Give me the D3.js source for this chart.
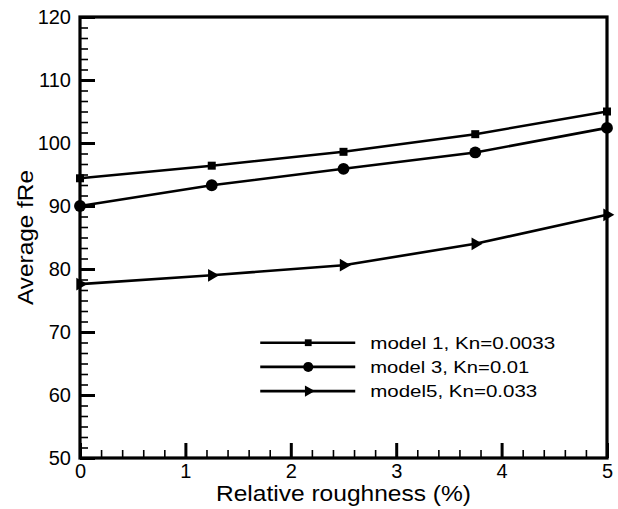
<!DOCTYPE html>
<html>
<head>
<meta charset="utf-8">
<script src="https://cdn.jsdelivr.net/npm/d3@7"></script>
<style>
  html, body { margin: 0; padding: 0; background: #fff; }
  svg { display: block; font-family: Arial, "Liberation Sans", sans-serif; }
</style>
</head>
<body>
<svg id="chart" width="618" height="509"></svg>
<script>
// Relative roughness (%) sampled at five positions
const roughness = [0, 1.25, 2.5, 3.75, 5];

// Average fRe for each model
const model1 = [94.4, 96.4, 98.6, 101.4, 105.0];
const model3 = [90.0, 93.3, 95.9, 98.5, 102.4];
const model5 = [77.6, 79.0, 80.6, 84.0, 88.6];

const seriesNames = ["model 1, Kn=0.0033", "model 3, Kn=0.01", "model5, Kn=0.033"];
const seriesMarkers = ["square", "circle", "triangle"];

const xTicks = [0, 1, 2, 3, 4, 5];
const yTicks = [50, 60, 70, 80, 90, 100, 110, 120];

const xTitle = "Relative roughness (%)";
const yTitle = "Average fRe";

const W = 618, H = 509;
const margin = { left: 80, right: 11, top: 17, bottom: 51 };
const plotW = W - margin.left - margin.right;
const plotH = H - margin.top - margin.bottom;

const svg = d3.select("#chart");
const g = svg.append("g").attr("transform", `translate(${margin.left},${margin.top})`);

const x = d3.scaleLinear().domain([0, 5]).range([0, plotW]);
const y = d3.scaleLinear().domain([50, 120]).range([plotH, 0]);

// minor ticks: x every 0.2, y every 10/6
const xMinor = d3.range(0, 26).map(i => i * 0.2).filter(v => Math.abs(v - Math.round(v)) > 1e-6);
const yMinor = d3.range(0, 43).map(i => 50 + i * 10 / 6).filter(v => Math.abs((v - 50) / 10 - Math.round((v - 50) / 10)) > 1e-6);

// Bottom axis (ticks pointing into the plot)
const xAxis = g.append("g").attr("transform", `translate(0,${plotH})`)
  .call(d3.axisBottom(x).tickValues(xTicks).tickSize(-15).tickPadding(6).tickFormat(d3.format("d")));
xAxis.select(".domain").remove();
xAxis.selectAll(".tick line").attr("stroke", "#000").attr("stroke-width", 3);
xAxis.selectAll(".tick text").attr("font-size", 20).attr("fill", "#000").attr("dy", "0.71em");

const xMinorAxis = g.append("g").attr("transform", `translate(0,${plotH})`)
  .call(d3.axisBottom(x).tickValues(xMinor).tickSize(-8).tickFormat(""));
xMinorAxis.select(".domain").remove();
xMinorAxis.selectAll(".tick line").attr("stroke", "#000").attr("stroke-width", 1.6);

// Left axis
const yAxis = g.append("g")
  .call(d3.axisLeft(y).tickValues(yTicks).tickSize(-15).tickPadding(9).tickFormat(d3.format("d")));
yAxis.select(".domain").remove();
yAxis.selectAll(".tick line").attr("stroke", "#000").attr("stroke-width", 3);
yAxis.selectAll(".tick text").attr("font-size", 20).attr("fill", "#000");

const yMinorAxis = g.append("g")
  .call(d3.axisLeft(y).tickValues(yMinor).tickSize(-8).tickFormat(""));
yMinorAxis.select(".domain").remove();
yMinorAxis.selectAll(".tick line").attr("stroke", "#000").attr("stroke-width", 1.6);

// Frame
g.append("rect").attr("x", 0).attr("y", 0).attr("width", plotW).attr("height", plotH)
  .attr("fill", "none").attr("stroke", "#000").attr("stroke-width", 3.2);

// Marker shapes
const symbolFor = {
  square: d3.symbol().type(d3.symbolSquare).size(64),
  circle: d3.symbol().type(d3.symbolCircle).size(110),
  triangle: d3.symbol().type(d3.symbolTriangle).size(70)
};

const allSeries = [model1, model3, model5];
const line = d3.line().x((d, i) => x(roughness[i])).y(d => y(d));

allSeries.forEach((vals, s) => {
  g.append("path").datum(vals).attr("d", line)
    .attr("fill", "none").attr("stroke", "#000").attr("stroke-width", 2.6);
  vals.forEach((v, i) => {
    const m = g.append("g").attr("transform", `translate(${x(roughness[i])},${y(v)})`);
    const p = m.append("path").attr("d", symbolFor[seriesMarkers[s]]()).attr("fill", "#000");
    if (seriesMarkers[s] === "triangle") p.attr("transform", "rotate(90)");
  });
});

// Legend
const legend = g.append("g").attr("transform", `translate(${x(1.71)},${y(68.3)})`);
const legendWidths = [185, 159, 167];
seriesNames.forEach((name, s) => {
  const row = legend.append("g").attr("transform", `translate(0,${s * 24.2})`);
  row.append("line").attr("x1", 0).attr("x2", 95).attr("y1", 0).attr("y2", 0)
    .attr("stroke", "#000").attr("stroke-width", 2.6);
  const m = row.append("g").attr("transform", "translate(48,0)");
  m.append("path").attr("d", symbolFor[seriesMarkers[s]]()).attr("fill", "#000")
    .attr("transform", seriesMarkers[s] === "triangle" ? "rotate(90) scale(0.9)" : "scale(0.85)");
  row.append("text").attr("x", 110).attr("y", 0).attr("dy", "0.36em")
    .attr("font-size", 17).attr("fill", "#000")
    .attr("textLength", legendWidths[s]).attr("lengthAdjust", "spacingAndGlyphs")
    .text(name);
});

// Axis titles
svg.append("text").attr("x", margin.left + plotW / 2).attr("y", 501)
  .attr("text-anchor", "middle").attr("font-size", 22.5).attr("fill", "#000")
  .attr("textLength", 255).attr("lengthAdjust", "spacingAndGlyphs")
  .text(xTitle);

svg.append("text")
  .attr("transform", `translate(33,${margin.top + plotH / 2}) rotate(-90)`)
  .attr("text-anchor", "middle").attr("font-size", 22.5).attr("fill", "#000")
  .attr("textLength", 135).attr("lengthAdjust", "spacingAndGlyphs")
  .text(yTitle);
</script>
</body>
</html>
